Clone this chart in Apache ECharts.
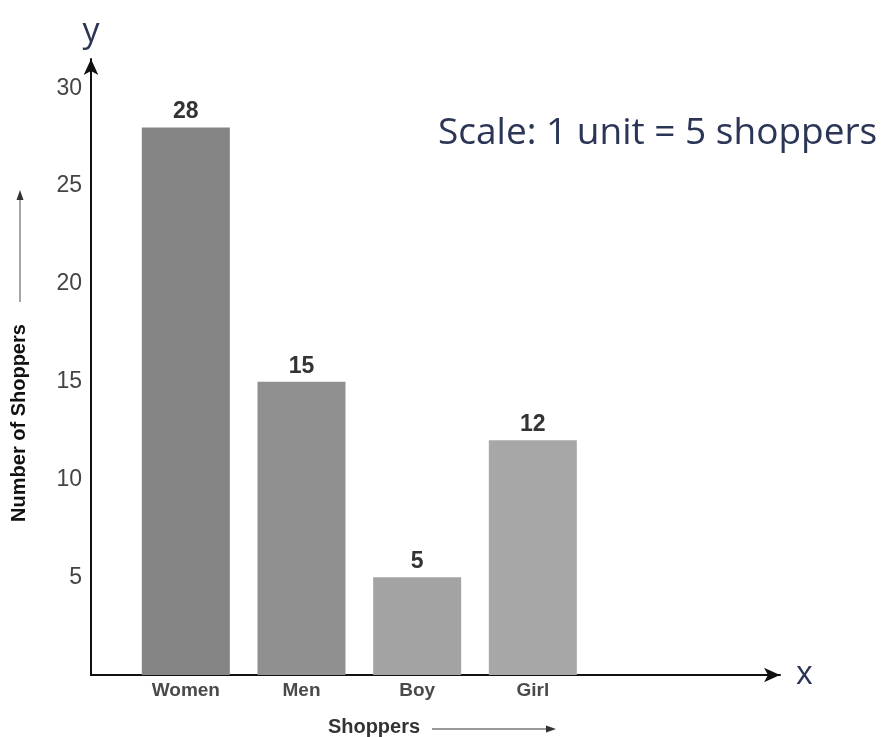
<!DOCTYPE html>
<html>
<head>
    <meta charset="utf-8">
    <title>Shoppers</title>
</head>
<body style="margin:0">
<script src="https://cdn.jsdelivr.net/npm/echarts@6/dist/echarts.min.js" type="text/javascript" charset="utf-8"></script>
<div id="main" style="width: 883px;height:737px;"></div>
<script type="text/javascript">
    // data
    var categories = ['Women', 'Men', 'Boy', 'Girl'];
    var shoppers = [28, 15, 5, 12];
    var barColors = ['#858585', '#909090', '#a3a3a3', '#a7a7a7'];
    var yTicks = [0, 5, 10, 15, 20, 25, 30];

    // two empty slots on the right so the bars keep their spacing
    var xSlots = categories.concat(['', '']);
    var barData = shoppers.map(function (v, i) {
        return { value: v, itemStyle: { color: barColors[i] } };
    });

    var navy = '#2b3556';
    var myChart = echarts.init(document.getElementById('main'));

    var option = {
        animation: false,
        title: {
            text: 'Scale: 1 unit = 5 shoppers',
            left: 433,
            top: 110,
            textStyle: { fontFamily: 'Open Sans', fontSize: 37, fontWeight: 'normal', color: navy }
        },
        grid: [
            { left: 91, right: 103, top: 59, bottom: 62 },
            { left: 128, width: 694, top: 59, bottom: 62 }
        ],
        xAxis: [
            {
                // axis line with arrow
                gridIndex: 0, type: 'value', min: 0, max: 1,
                name: 'x', nameLocation: 'end', nameGap: 16,
                nameTextStyle: { fontFamily: 'Open Sans', fontSize: 32, color: navy, verticalAlign: 'middle' },
                axisLine: { lineStyle: { color: '#111', width: 2 }, symbol: ['none', 'arrow'], symbolSize: [11, 16] },
                axisTick: { show: false }, axisLabel: { show: false }, splitLine: { show: false }
            },
            {
                gridIndex: 1, type: 'category', data: xSlots,
                axisLine: { show: false }, axisTick: { show: false },
                axisLabel: { color: '#4a4a4a', fontSize: 19, fontWeight: 'bold', fontFamily: 'Liberation Sans', margin: 6, interval: 0 }
            }
        ],
        yAxis: [
            {
                gridIndex: 0, type: 'value', min: 0, max: 31.5, interval: 5,
                name: 'y', nameLocation: 'end', nameGap: 10,
                nameTextStyle: { fontFamily: 'Open Sans', fontSize: 34, color: navy, align: 'center' },
                axisLine: { show: true, lineStyle: { color: '#111', width: 2 }, symbol: ['none', 'arrow'], symbolSize: [11, 16] },
                axisTick: { show: false }, splitLine: { show: false },
                axisLabel: {
                    color: '#444', fontSize: 23, fontFamily: 'Liberation Sans', margin: 9,
                    showMaxLabel: false,
                    formatter: function (v) {
                        return (v > 0 && yTicks.indexOf(v) >= 0) ? String(v) : '';
                    }
                }
            },
            {
                gridIndex: 1, type: 'value', min: 0, max: 31.5, show: false
            }
        ],
        graphic: [
            {
                type: 'text', x: 19, y: 423, rotation: Math.PI / 2,
                style: {
                    text: 'Number of Shoppers', fill: '#111', font: 'bold 20px "Liberation Sans"',
                    align: 'center', verticalAlign: 'middle'
                }
            },
            { type: 'line', shape: { x1: 20, y1: 302, x2: 20, y2: 198 }, style: { stroke: '#888', lineWidth: 1.5 } },
            { type: 'polygon', shape: { points: [[16.5, 200], [23.5, 200], [20, 190]] }, style: { fill: '#333' } },
            {
                type: 'text', x: 374, y: 727,
                style: {
                    text: 'Shoppers', fill: '#333', font: 'bold 20px "Liberation Sans"',
                    align: 'center', verticalAlign: 'middle'
                }
            },
            { type: 'line', shape: { x1: 432, y1: 729, x2: 548, y2: 729 }, style: { stroke: '#777', lineWidth: 1.5 } },
            { type: 'polygon', shape: { points: [[546, 725.5], [546, 732.5], [556, 729]] }, style: { fill: '#333' } }
        ],
        series: [
            {
                name: 'Shoppers',
                type: 'bar',
                xAxisIndex: 1,
                yAxisIndex: 1,
                barWidth: 88,
                data: barData,
                label: {
                    show: true, position: 'top', distance: 4,
                    color: '#333', fontSize: 23, fontWeight: 'bold', fontFamily: 'Liberation Sans'
                }
            }
        ]
    };

    myChart.setOption(option);
</script>
</body>
</html>
